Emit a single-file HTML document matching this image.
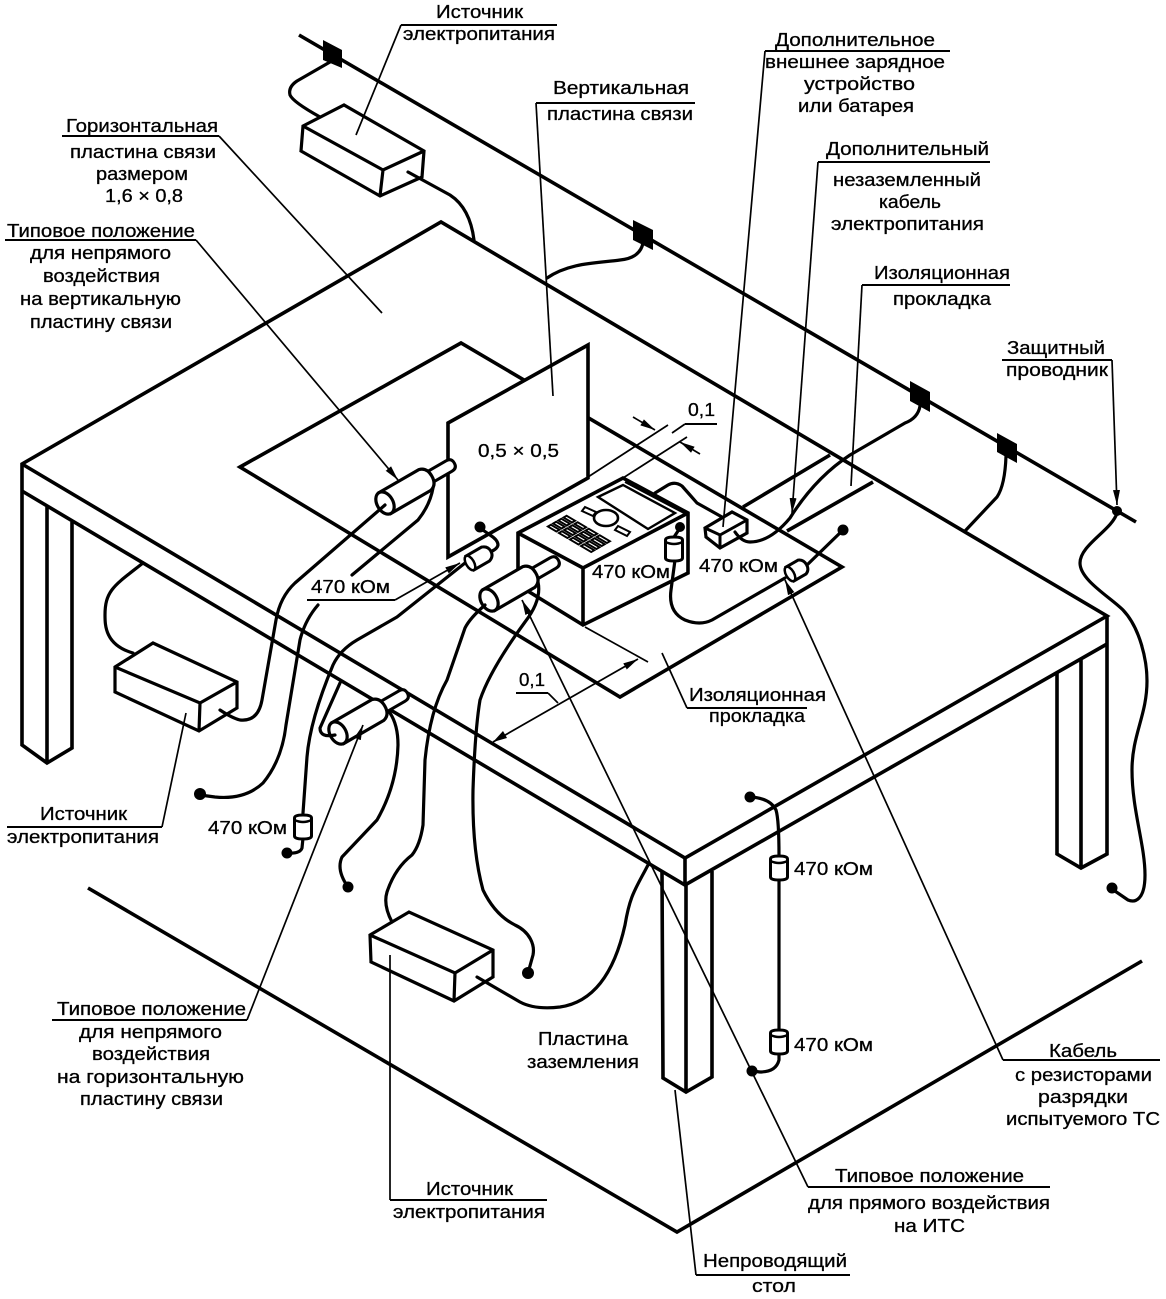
<!DOCTYPE html>
<html lang="ru"><head><meta charset="utf-8"><title>Схема</title>
<style>
html,body{margin:0;padding:0;background:#fff}
svg{display:block}
text{font-family:"Liberation Sans","DejaVu Sans",sans-serif;font-size:18px;fill:#000;stroke:#000;stroke-width:.3}
.t{fill:none;stroke:#000;stroke-width:3.6;stroke-linejoin:miter}
.w{fill:none;stroke:#000;stroke-width:3.2;stroke-linecap:round;stroke-linejoin:round}
.l{fill:none;stroke:#000;stroke-width:1.7}
.u{fill:none;stroke:#000;stroke-width:2}
</style></head><body>
<svg width="1166" height="1299" viewBox="0 0 1166 1299" xmlns="http://www.w3.org/2000/svg">
<defs>
<marker id="a" markerWidth="16" markerHeight="10" refX="15" refY="5" orient="auto" markerUnits="userSpaceOnUse"><path d="M0,1.5 L15,5 L0,8.5 Z" fill="#000"/></marker>
<g id="cyl"><path d="M50,-6 L74,-6 Q80,-6 80,0 Q80,6 74,6 L50,6 Z" fill="#fff" stroke="#000" stroke-width="3"/>
<path d="M0,-12 L46,-12 Q54,-10 54,0 Q54,10 46,12 L0,12 Z" fill="#fff" stroke="#000" stroke-width="3.2"/>
<ellipse cx="0" cy="0" rx="8" ry="12" fill="#fff" stroke="#000" stroke-width="3.2"/></g>
<g id="vr"><path d="M-8.5,-9 Q-8.5,-12 0,-12 Q8.5,-12 8.5,-9 L8.5,9 Q8.5,12 0,12 Q-8.5,12 -8.5,9 Z" fill="#fff" stroke="#000" stroke-width="3"/>
<path d="M-8.5,-7 Q0,-3 8.5,-7" fill="none" stroke="#000" stroke-width="2.5"/></g>
</defs>

<!-- ground plane -->
<path class="t" d="M88,888 L677,1232 L1142,961"/>

<!-- table legs -->
<path class="t" d="M22,491 L22,745 L47,763 L72,748 L72,522 M47,507 L47,763"/>
<path class="t" d="M662,872 L663,1078 L686,1092 L712,1077 L712,871 M686,885 L686,1092"/>
<path class="t" d="M1057,672 L1057,854 L1081,868 L1107,854 L1107,616 M1081,660 L1081,868"/>

<!-- table top -->
<path class="t" d="M22,491 L22,464 L441,222 L1107,616 L685,858 L22,464"/>
<path class="t" d="M22,491 L685,885 L1107,644 M685,858 L685,885"/>

<!-- plate -->
<path class="t" d="M240,467 L461,343 L842,567 L620,697 Z"/>
<path class="t" d="M743,507 L830,455 M787,531 L873,482"/>

<!-- vertical plate -->
<path d="M448,423 L588,345 L588,478 L448,557 Z" fill="#fff" stroke="#000" stroke-width="3.6"/>

<!-- power line -->
<path d="M299,35 L1136,522" fill="none" stroke="#000" stroke-width="3.6"/>
<path d="M323,40 L342,50 L342,68 L323,60 Z M633,220 L653,230 L653,250 L633,240 Z M910,381 L930,392 L930,412 L910,401 Z M997,433 L1017,444 L1017,463 L997,452 Z" fill="#000"/>
<circle cx="1117" cy="511" r="5" fill="#000"/>

<!-- PSU 1 -->
<path d="M303,126 L344,105 L424,151 L422,177 L380,196 L301,151 Z" fill="#fff" stroke="#000" stroke-width="3.2"/>
<path class="t" style="stroke-width:3.2" d="M303,126 L383,170 L424,151 M383,170 L380,196"/>
<!-- PSU 2 -->
<path d="M115,667 L153,643 L237,682 L237,708 L199,731 L115,692 Z" fill="#fff" stroke="#000" stroke-width="3.2"/>
<path class="t" style="stroke-width:3.2" d="M115,667 L200,703 L237,682 M200,703 L199,731"/>
<!-- PSU 3 -->
<path d="M370,935 L409,912 L493,950 L493,977 L454,1001 L371,962 Z" fill="#fff" stroke="#000" stroke-width="3.2"/>
<path class="t" style="stroke-width:3.2" d="M370,935 L455,973 L493,950 M455,973 L454,1001"/>

<!-- device -->
<path d="M518,533 L623,478 L688,513 L688,573 L583,625 L518,585 Z" fill="#fff" stroke="#000" stroke-width="3.6"/>
<path class="t" d="M518,533 L583,568 L688,513 M583,568 L583,625"/>
<path class="u" d="M625,482 L684,513"/>
<path d="M598,497 L623,485 L675,513 L648,529 Z" fill="#fff" stroke="#000" stroke-width="2.4"/>
<path d="M585,507 L596,512 L593,516 L582,511 Z M618,526 L630,532 L627,536 L615,530 Z" fill="#fff" stroke="#000" stroke-width="2"/>
<ellipse cx="606" cy="518" rx="12" ry="8" fill="#fff" stroke="#000" stroke-width="2.6"/>
<g transform="matrix(0.85,0.5,0.87,-0.5,547,527)" fill="none" stroke="#000" stroke-width="2.2">
<rect x="0" y="1" width="10" height="3.5"/><rect x="13" y="1" width="10" height="3.5"/><rect x="26" y="1" width="10" height="3.5"/><rect x="39" y="1" width="12" height="3.5"/>
<rect x="0" y="7" width="10" height="3.5"/><rect x="13" y="7" width="10" height="3.5"/><rect x="26" y="7" width="10" height="3.5"/><rect x="39" y="7" width="12" height="3.5"/>
<rect x="0" y="13" width="10" height="3.5"/><rect x="13" y="13" width="10" height="3.5"/><rect x="26" y="13" width="10" height="3.5"/><rect x="39" y="13" width="12" height="3.5"/>
<rect x="0" y="19" width="10" height="3.5"/><rect x="13" y="19" width="10" height="3.5"/><rect x="26" y="19" width="10" height="3.5"/><rect x="39" y="19" width="12" height="3.5"/>
</g>

<!-- small box -->
<path d="M705,528 L732,512 L747,520 L747,533 L720,548 L706,537 Z" fill="#fff" stroke="#000" stroke-width="3.2"/>
<path class="t" style="stroke-width:3" d="M705,528 L720,535 L747,520 M720,535 L720,548"/>

<!-- cylinders -->
<use href="#cyl" transform="translate(385,503) rotate(-30)"/>
<use href="#cyl" transform="translate(489,600) rotate(-30)"/>
<use href="#cyl" transform="translate(338,733) rotate(-30)"/>

<!-- wires -->
<g class="w">
<path d="M330,62 L297,81 Q288,87 290,95 Q293,102 320,117"/>
<path d="M408,172 L450,195 Q470,208 474,240"/>
<path d="M643,243 Q640,258 620,260 C600,263 570,262 547,278"/>
<path d="M920,406 Q918,418 905,423 L850,455 Q815,478 790,518 Q770,542 750,542 Q742,542 735,532"/>
<path d="M1006,456 Q1005,485 997,497 L965,531"/>
<path d="M1117,513 C1112,530 1080,545 1080,563 C1080,580 1110,597 1123,610 C1140,628 1147,660 1147,681 C1147,715 1132,735 1132,770 C1132,810 1145,845 1145,875 C1145,900 1135,903 1128,900 L1112,889"/>
<path d="M385,505 L295,583 Q280,597 276,620 L262,700 Q258,722 240,720 Q232,718 220,710"/>
<path d="M433,488 Q430,505 418,520 L352,575"/>
<path d="M318,605 Q305,620 300,640 L286,725 Q282,760 263,783 Q245,800 215,797 L200,795"/>
<path d="M340,683 L320,728 Q320,738 335,735"/>
<path d="M390,713 Q398,725 398,745 Q397,785 377,820 L342,857 Q336,870 348,887"/>
<path d="M133,653 C105,645 105,625 105,615 C105,590 115,585 143,563"/>
<path d="M392,922 Q383,905 387,892 Q395,868 412,855 Q420,845 423,825 L425,760 Q430,710 447,680 L465,628 Q470,618 485,605"/>
<path d="M538,582 Q542,600 525,622 Q490,670 480,700 Q475,730 473,790 Q472,850 483,890 Q495,915 515,925 C530,932 535,945 533,955 L528,973"/>
<path d="M477,977 L520,1002 Q535,1010 560,1007 C595,1002 615,970 625,925 C630,895 635,890 648,865"/>
<path d="M655,493 L668,485 Q675,481 682,486 Q690,495 697,503 L722,517"/>
<path d="M680,528 L674,537 M675,560 L671,590 Q668,612 685,620 Q700,626 712,620 L785,578"/>
<path d="M807,565 L843,530"/>
<path d="M480,528 L490,535 Q498,540 498,545 Q497,550 487,553"/>
<path d="M465,563 L397,617 L357,640 Q340,650 333,665 Q310,720 307,757 L303,813"/>
<path d="M303,838 L302,848 Q300,854 287,853"/>
<path d="M750,797 Q770,798 776,810 Q779,820 779,856"/>
<path d="M779,880 L779,1030"/>
<path d="M779,1054 L779,1060 Q776,1072 760,1072 L752,1071"/>
</g>

<!-- small resistors -->
<g transform="translate(470,563) rotate(-30)"><path d="M0,-8 L18,-8 Q24,-6 24,0 Q24,6 18,8 L0,8 Z" fill="#fff" stroke="#000" stroke-width="3"/><ellipse rx="4" ry="8" fill="#fff" stroke="#000" stroke-width="2.5"/></g>
<g transform="translate(790,574) rotate(-30)"><path d="M0,-8 L14,-8 Q19,-6 19,0 Q19,6 14,8 L0,8 Z" fill="#fff" stroke="#000" stroke-width="3"/><ellipse rx="4" ry="8" fill="#fff" stroke="#000" stroke-width="2.5"/></g>
<use href="#vr" transform="translate(674,549)"/>
<use href="#vr" transform="translate(303,827)"/>
<use href="#vr" transform="translate(779,868)"/>
<use href="#vr" transform="translate(779,1042)"/>

<!-- dots -->
<g fill="#000">
<circle cx="480" cy="527" r="5.5"/><circle cx="680" cy="527" r="5"/><circle cx="843" cy="530" r="5.5"/>
<circle cx="200" cy="794" r="6"/><circle cx="287" cy="853" r="5.5"/><circle cx="348" cy="887" r="5.5"/>
<circle cx="528" cy="973" r="6"/><circle cx="750" cy="797" r="5.5"/><circle cx="752" cy="1071" r="5.5"/><circle cx="1112" cy="888" r="5.5"/>
</g>

<!-- leaders -->
<g class="l">
<path d="M356,135 L401,25"/>
<path d="M536,103 L553,396"/>
<path d="M219,136 L382,313"/>
<path d="M196,240 L398,480" marker-end="url(#a)"/>
<path d="M765,51 L723,527"/>
<path d="M818,162 L792,513" marker-end="url(#a)"/>
<path d="M862,285 L851,486"/>
<path d="M1112,360 L1117,505" marker-end="url(#a)"/>
<path d="M395,600 L460,563" marker-end="url(#a)"/>
<path d="M588,477 L668,425 M623,478 L687,437 M685,424 L672,433"/>
<path d="M633,417 L655,430" marker-end="url(#a)"/>
<path d="M700,454 L680,442" marker-end="url(#a)"/>
<path d="M585,627 L648,662"/>
<path d="M493,742 L638,659" marker-end="url(#a)"/>
<path d="M548,693 L558,703"/>
<path d="M662,653 L687,708"/>
<path d="M1003,1060 L785,580" marker-end="url(#a)"/>
<path d="M808,1187 L522,600" marker-end="url(#a)"/>
<path d="M696,1275 L675,1090"/>
<path d="M162,827 L186,713"/>
<path d="M390,1200 L390,955"/>
<path d="M247,1020 L363,725" marker-end="url(#a)"/>
</g>
<path d="M493,742 L507,738 L503,731 Z" fill="#000"/>

<!-- underlines -->
<g class="u">
<path d="M401,25 L557,25"/><path d="M536,103 L695,103"/><path d="M62,136 L219,136"/><path d="M5,240 L196,240"/>
<path d="M765,51 L950,51"/><path d="M818,162 L990,162"/><path d="M862,285 L1010,285"/><path d="M1002,360 L1112,360"/>
<path d="M307,600 L395,600"/><path d="M685,424 L717,424"/><path d="M516,693 L548,693"/><path d="M687,708 L807,708"/>
<path d="M1003,1060 L1160,1060"/><path d="M808,1187 L1050,1187"/><path d="M696,1275 L850,1275"/>
<path d="M7,827 L162,827"/><path d="M390,1200 L547,1200"/><path d="M52,1020 L247,1020"/>
</g>

<!-- text -->
<g>
<text x="436" y="18" textLength="87" lengthAdjust="spacingAndGlyphs">Источник</text>
<text x="403" y="40" textLength="152" lengthAdjust="spacingAndGlyphs">электропитания</text>
<text x="775" y="46" textLength="160" lengthAdjust="spacingAndGlyphs">Дополнительное</text>
<text x="765" y="68" textLength="180" lengthAdjust="spacingAndGlyphs">внешнее зарядное</text>
<text x="804" y="90" textLength="111" lengthAdjust="spacingAndGlyphs">устройство</text>
<text x="798" y="112" textLength="116" lengthAdjust="spacingAndGlyphs">или батарея</text>
<text x="553" y="94" textLength="136" lengthAdjust="spacingAndGlyphs">Вертикальная</text>
<text x="547" y="120" textLength="146" lengthAdjust="spacingAndGlyphs">пластина связи</text>
<text x="66" y="132" textLength="152" lengthAdjust="spacingAndGlyphs">Горизонтальная</text>
<text x="70" y="158" textLength="146" lengthAdjust="spacingAndGlyphs">пластина связи</text>
<text x="96" y="180" textLength="92" lengthAdjust="spacingAndGlyphs">размером</text>
<text x="105" y="202" textLength="78" lengthAdjust="spacingAndGlyphs">1,6 × 0,8</text>
<text x="7" y="237" textLength="188" lengthAdjust="spacingAndGlyphs">Типовое положение</text>
<text x="30" y="259" textLength="141" lengthAdjust="spacingAndGlyphs">для непрямого</text>
<text x="43" y="282" textLength="117" lengthAdjust="spacingAndGlyphs">воздействия</text>
<text x="20" y="305" textLength="161" lengthAdjust="spacingAndGlyphs">на вертикальную</text>
<text x="30" y="328" textLength="142" lengthAdjust="spacingAndGlyphs">пластину связи</text>
<text x="826" y="155" textLength="163" lengthAdjust="spacingAndGlyphs">Дополнительный</text>
<text x="833" y="186" textLength="148" lengthAdjust="spacingAndGlyphs">незаземленный</text>
<text x="879" y="208" textLength="62" lengthAdjust="spacingAndGlyphs">кабель</text>
<text x="831" y="230" textLength="153" lengthAdjust="spacingAndGlyphs">электропитания</text>
<text x="874" y="279" textLength="136" lengthAdjust="spacingAndGlyphs">Изоляционная</text>
<text x="893" y="305" textLength="98" lengthAdjust="spacingAndGlyphs">прокладка</text>
<text x="1007" y="354" textLength="98" lengthAdjust="spacingAndGlyphs">Защитный</text>
<text x="1006" y="376" textLength="102" lengthAdjust="spacingAndGlyphs">проводник</text>
<text x="688" y="416" textLength="27" lengthAdjust="spacingAndGlyphs">0,1</text>
<text x="478" y="457" textLength="81" lengthAdjust="spacingAndGlyphs">0,5 × 0,5</text>
<text x="311" y="593" textLength="79" lengthAdjust="spacingAndGlyphs">470 кОм</text>
<text x="592" y="578" textLength="78" lengthAdjust="spacingAndGlyphs">470 кОм</text>
<text x="699" y="572" textLength="79" lengthAdjust="spacingAndGlyphs">470 кОм</text>
<text x="208" y="834" textLength="79" lengthAdjust="spacingAndGlyphs">470 кОм</text>
<text x="794" y="875" textLength="79" lengthAdjust="spacingAndGlyphs">470 кОм</text>
<text x="794" y="1051" textLength="79" lengthAdjust="spacingAndGlyphs">470 кОм</text>
<text x="519" y="686" textLength="26" lengthAdjust="spacingAndGlyphs">0,1</text>
<text x="689" y="701" textLength="137" lengthAdjust="spacingAndGlyphs">Изоляционная</text>
<text x="709" y="722" textLength="96" lengthAdjust="spacingAndGlyphs">прокладка</text>
<text x="40" y="820" textLength="87" lengthAdjust="spacingAndGlyphs">Источник</text>
<text x="7" y="843" textLength="152" lengthAdjust="spacingAndGlyphs">электропитания</text>
<text x="426" y="1195" textLength="87" lengthAdjust="spacingAndGlyphs">Источник</text>
<text x="393" y="1218" textLength="152" lengthAdjust="spacingAndGlyphs">электропитания</text>
<text x="538" y="1045" textLength="90" lengthAdjust="spacingAndGlyphs">Пластина</text>
<text x="527" y="1068" textLength="112" lengthAdjust="spacingAndGlyphs">заземления</text>
<text x="1049" y="1057" textLength="68" lengthAdjust="spacingAndGlyphs">Кабель</text>
<text x="1015" y="1081" textLength="137" lengthAdjust="spacingAndGlyphs">с резисторами</text>
<text x="1038" y="1103" textLength="90" lengthAdjust="spacingAndGlyphs">разрядки</text>
<text x="1006" y="1125" textLength="154" lengthAdjust="spacingAndGlyphs">испытуемого ТС</text>
<text x="835" y="1182" textLength="189" lengthAdjust="spacingAndGlyphs">Типовое положение</text>
<text x="808" y="1209" textLength="242" lengthAdjust="spacingAndGlyphs">для прямого воздействия</text>
<text x="894" y="1232" textLength="71" lengthAdjust="spacingAndGlyphs">на ИТС</text>
<text x="703" y="1267" textLength="144" lengthAdjust="spacingAndGlyphs">Непроводящий</text>
<text x="752" y="1292" textLength="44" lengthAdjust="spacingAndGlyphs">стол</text>
<text x="57" y="1015" textLength="189" lengthAdjust="spacingAndGlyphs">Типовое положение</text>
<text x="79" y="1038" textLength="143" lengthAdjust="spacingAndGlyphs">для непрямого</text>
<text x="92" y="1060" textLength="118" lengthAdjust="spacingAndGlyphs">воздействия</text>
<text x="57" y="1083" textLength="187" lengthAdjust="spacingAndGlyphs">на горизонтальную</text>
<text x="80" y="1105" textLength="143" lengthAdjust="spacingAndGlyphs">пластину связи</text>
</g>
</svg>
</body></html>
